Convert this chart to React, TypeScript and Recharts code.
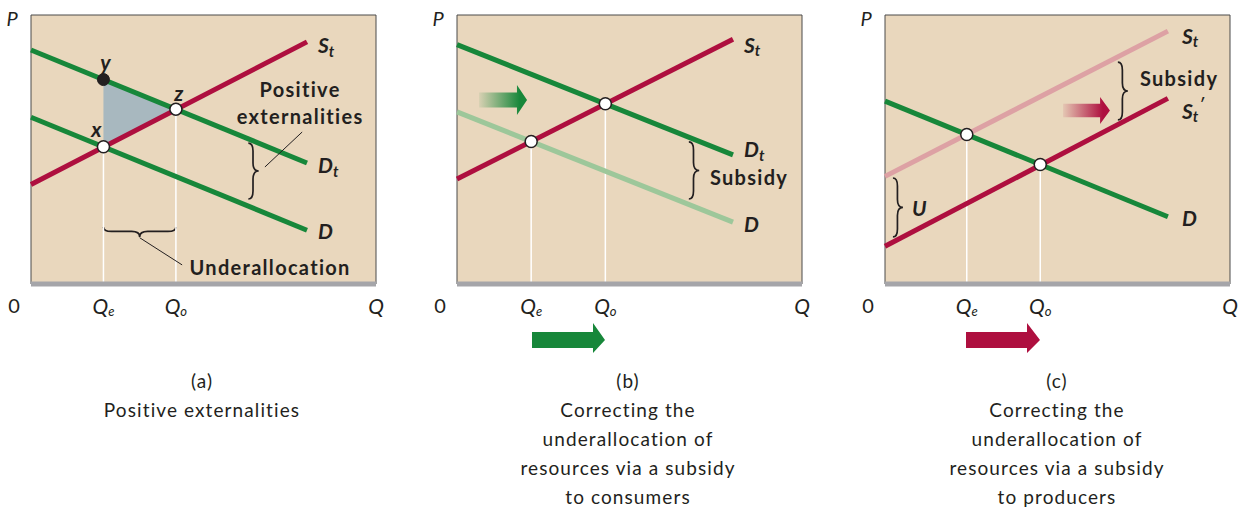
import React from "react";
import {
  ComposedChart,
  Line,
  Area,
  XAxis,
  YAxis,
  ReferenceArea,
  ReferenceLine,
  ReferenceDot,
} from "recharts";

const FONT = "Lato, 'Open Sans', sans-serif";
const INK = "#231f20";
const GREEN = "#17873a";
const RED = "#ae0f3f";
const LGREEN = "#9dc79a";
const PINK = "#dda1a4";
const BEIGE = "#e9d7bd";
const AXIS = "#a5a5a9";
const SHADE = "#a8b8bf";

// panel (a): positive externalities
const aDemand = [{ q: 0, p: 62 }, { q: 80, p: 20 }];
const aDemandTotal = [{ q: 0, p: 87 }, { q: 80, p: 45 }];
const aSupply = [{ q: 0, p: 37 }, { q: 80, p: 90 }];
const aQe = 21;
const aQo = 42;
const aPointX = { q: 21, p: 51 };
const aPointY = { q: 21, p: 76 };
const aPointZ = { q: 42, p: 65 };
const aGain = [{ q: 21, band: [51, 76] }, { q: 42, band: [65, 65] }];

// panel (b): subsidy to consumers
const bDemand = [{ q: 0, p: 64 }, { q: 80, p: 23 }];
const bDemandTotal = [{ q: 0, p: 89 }, { q: 80, p: 48 }];
const bSupply = [{ q: 0, p: 39 }, { q: 80, p: 91 }];
const bQe = 21.5;
const bQo = 43;
const bPointE = { q: 21.5, p: 53 };
const bPointO = { q: 43, p: 67 };

// panel (c): subsidy to producers
const cSupply = [{ q: 0, p: 40 }, { q: 82, p: 94 }];
const cSupplySub = [{ q: 0, p: 14 }, { q: 82, p: 69 }];
const cDemand = [{ q: 0, p: 68 }, { q: 82, p: 25 }];
const cQe = 23.7;
const cQo = 45;
const cPointE = { q: 23.7, p: 55.6 };
const cPointO = { q: 45, p: 44.4 };

const captionA = ["(a)", "Positive externalities"];
const captionB = ["(b)", "Correcting the", "underallocation of", "resources via a subsidy", "to consumers"];
const captionC = ["(c)", "Correcting the", "underallocation of", "resources via a subsidy", "to producers"];

const W = 400;
const H = 320;
const MARGIN = { top: 15, right: 24, left: 31, bottom: 0 };

const qTick = (qe: number, qo: number) => (props: any) => {
  const { x, y, payload } = props;
  const v = payload.value;
  const ty = y + 21;
  if (v === 0) {
    return (
      <text x={x - 17} y={ty} textAnchor="middle" dominantBaseline="central" fontFamily={FONT} fontSize={20} fill={INK}>
        0
      </text>
    );
  }
  const s = v === qe ? "e" : v === qo ? "o" : "";
  return (
    <text x={x} y={ty} textAnchor="middle" dominantBaseline="central" fontFamily={FONT} fontSize={21} fontStyle="italic" fill={INK}>
      Q{s ? <tspan fontSize={13} dy={6}>{s}</tspan> : null}
    </text>
  );
};

const vBrace = (props: any) => {
  const { x, y, width, height } = props;
  const m = x + width * 0.45;
  const r = Math.min(8, height / 6);
  const cy = y + height / 2;
  const tip = x + width;
  const b = y + height;
  const d = `M${x},${y} Q${m},${y} ${m},${y + r} L${m},${cy - r} Q${m},${cy} ${tip},${cy} Q${m},${cy} ${m},${cy + r} L${m},${b - r} Q${m},${b} ${x},${b}`;
  return <path d={d} fill="none" stroke={INK} strokeWidth={1.7} />;
};

const hBrace = (props: any) => {
  const { x, y, width, height } = props;
  const m = y + height * 0.45;
  const r = Math.min(8, width / 6);
  const cx = x + width / 2;
  const tip = y + height;
  const e = x + width;
  const d = `M${x},${y} Q${x},${m} ${x + r},${m} L${cx - r},${m} Q${cx},${m} ${cx},${tip} Q${cx},${m} ${cx + r},${m} L${e - r},${m} Q${e},${m} ${e},${y}`;
  return <path d={d} fill="none" stroke={INK} strokeWidth={1.7} />;
};

const gradArrow = (id: string, color: string) => (props: any) => {
  const { x, y, width, height } = props;
  const body = height * 0.25;
  const cy = y + height / 2;
  const neck = x + width * 0.79;
  const pts = [
    [x, cy - body],
    [neck, cy - body],
    [neck, y],
    [x + width, cy],
    [neck, y + height],
    [neck, cy + body],
    [x, cy + body],
  ]
    .map((p) => p.join(","))
    .join(" ");
  return (
    <g>
      <defs>
        <linearGradient id={id} x1="0" y1="0" x2="1" y2="0">
          <stop offset="0" stopColor={color} stopOpacity={0.08} />
          <stop offset="0.85" stopColor={color} stopOpacity={1} />
        </linearGradient>
      </defs>
      <polygon points={pts} fill={`url(#${id})`} />
    </g>
  );
};

type TagOpts = { dx?: number; dy?: number; anchor?: string; italic?: boolean; size?: number; bold?: boolean; spacing?: number };

const tag = (key: string, q: number, p: number, content: React.ReactNode, opts: TagOpts = {}) => (
  <ReferenceDot
    key={key}
    x={q}
    y={p}
    r={0}
    shape={(pr: any) => (
      <text
        x={pr.cx + (opts.dx ?? 0)}
        y={pr.cy + (opts.dy ?? 0)}
        textAnchor={opts.anchor ?? "start"}
        dominantBaseline="central"
        fontFamily={FONT}
        fontWeight={opts.bold === false ? 400 : 700}
        fontStyle={opts.italic === false ? "normal" : "italic"}
        fontSize={opts.size ?? 21}
        letterSpacing={opts.spacing ?? 0}
        fill={INK}
      >
        {content}
      </text>
    )}
  />
);

const word = (key: string, q: number, p: number, text: string, anchor = "middle") =>
  tag(key, q, p, text, { anchor, italic: false, size: 20, spacing: 1.3 });

const sub = (main: string, s: string) => (
  <>
    {main}
    <tspan fontSize={15} dy={6}>
      {s}
    </tspan>
  </>
);

const frame = (qe: number, qo: number) => [
  <ReferenceArea key="bg" x1={0} x2={100} y1={0} y2={100} fill={BEIGE} fillOpacity={1} stroke="#4a4a4a" strokeWidth={1} />,
  <XAxis
    key="x"
    type="number"
    dataKey="q"
    domain={[0, 100]}
    ticks={[0, qe, qo, 100]}
    interval={0}
    height={36}
    tickSize={0}
    tickMargin={0}
    tickLine={false}
    axisLine={{ stroke: AXIS, strokeWidth: 5 }}
    tick={qTick(qe, qo)}
  />,
  <YAxis key="y" type="number" domain={[0, 100]} width={0} tick={false} tickLine={false} axisLine={{ stroke: AXIS, strokeWidth: 5 }} />,
  tag("p", 0, 100, "P", { dx: -19, dy: 3, anchor: "middle", bold: false, size: 20 }),
];

const guide = (key: string, pt: { q: number; p: number }) => (
  <ReferenceLine key={key} segment={[{ x: pt.q, y: 0 }, { x: pt.q, y: pt.p }]} stroke="#fff" strokeWidth={1.5} />
);

const openDot = (key: string, pt: { q: number; p: number }) => (
  <ReferenceDot key={key} x={pt.q} y={pt.p} r={6} fill="#fff" stroke={INK} strokeWidth={1.5} />
);

function PanelA() {
  return (
    <ComposedChart width={W} height={H} margin={MARGIN}>
      {frame(aQe, aQo)}
      <Area data={aGain} dataKey="band" type="linear" fill={SHADE} fillOpacity={1} stroke="none" isAnimationActive={false} />
      {guide("ge", aPointX)}
      {guide("go", aPointZ)}
      <Line data={aDemand} dataKey="p" stroke={GREEN} strokeWidth={5} dot={false} isAnimationActive={false} />
      <Line data={aDemandTotal} dataKey="p" stroke={GREEN} strokeWidth={5} dot={false} isAnimationActive={false} />
      <Line data={aSupply} dataKey="p" stroke={RED} strokeWidth={5} dot={false} isAnimationActive={false} />
      <ReferenceArea x1={63} x2={66} y1={31.6} y2={52.4} shape={vBrace} />
      <ReferenceArea x1={aQe} x2={aQo} y1={17.5} y2={21.2} shape={hBrace} />
      <ReferenceLine segment={[{ x: 78.6, y: 56.5 }, { x: 67.8, y: 43.5 }]} stroke={INK} strokeWidth={1} />
      <ReferenceLine segment={[{ x: 31.5, y: 17.2 }, { x: 43.8, y: 7.1 }]} stroke={INK} strokeWidth={1} />
      {openDot("dx", aPointX)}
      <ReferenceDot x={aPointY.q} y={aPointY.p} r={6} fill={INK} stroke={INK} strokeWidth={1} />
      {openDot("dz", aPointZ)}
      {tag("ly", aPointY.q, aPointY.p, "y", { dx: 2, dy: -18, anchor: "middle" })}
      {tag("lz", aPointZ.q, aPointZ.p, "z", { dx: 3, dy: -17, anchor: "middle" })}
      {tag("lx", aPointX.q, aPointX.p, "x", { dx: -7, dy: -18, anchor: "middle" })}
      {tag("ls", 80, 90, sub("S", "t"), { dx: 11, dy: 3 })}
      {tag("ldt", 80, 45, sub("D", "t"), { dx: 11, dy: 2 })}
      {tag("ld", 80, 20, "D", { dx: 11, dy: 0 })}
      {word("lpos", 78, 72.5, "Positive")}
      {word("lext", 78, 62.5, "externalities")}
      {word("lund", 69.3, 6.3, "Underallocation")}
    </ComposedChart>
  );
}

function PanelB() {
  return (
    <ComposedChart width={W} height={H} margin={MARGIN}>
      {frame(bQe, bQo)}
      {guide("ge", bPointE)}
      {guide("go", bPointO)}
      <Line data={bDemand} dataKey="p" stroke={LGREEN} strokeWidth={5} dot={false} isAnimationActive={false} />
      <Line data={bDemandTotal} dataKey="p" stroke={GREEN} strokeWidth={5} dot={false} isAnimationActive={false} />
      <Line data={bSupply} dataKey="p" stroke={RED} strokeWidth={5} dot={false} isAnimationActive={false} />
      <ReferenceArea x1={67.2} x2={70.2} y1={31.6} y2={52.8} shape={vBrace} />
      <ReferenceArea x1={6.4} x2={20.3} y1={62.8} y2={74} shape={gradArrow("gb", GREEN)} />
      {openDot("de", bPointE)}
      {openDot("do", bPointO)}
      {tag("ls", 80, 91, sub("S", "t"), { dx: 11, dy: 5 })}
      {tag("ldt", 80, 48, sub("D", "t"), { dx: 11, dy: -6 })}
      {tag("ld", 80, 23, "D", { dx: 11, dy: 1 })}
      {word("lsub", 73.3, 39.8, "Subsidy", "start")}
    </ComposedChart>
  );
}

function PanelC() {
  return (
    <ComposedChart width={W} height={H} margin={MARGIN}>
      {frame(cQe, cQo)}
      {guide("ge", cPointE)}
      {guide("go", cPointO)}
      <Line data={cSupply} dataKey="p" stroke={PINK} strokeWidth={5} dot={false} isAnimationActive={false} />
      <Line data={cDemand} dataKey="p" stroke={GREEN} strokeWidth={5} dot={false} isAnimationActive={false} />
      <Line data={cSupplySub} dataKey="p" stroke={RED} strokeWidth={5} dot={false} isAnimationActive={false} />
      <ReferenceArea x1={67.5} x2={70.4} y1={61} y2={82.5} shape={vBrace} />
      <ReferenceArea x1={2.3} x2={5.2} y1={17.5} y2={39.4} shape={vBrace} />
      <ReferenceArea x1={51.6} x2={65.2} y1={59.5} y2={69.5} shape={gradArrow("gc", RED)} />
      {openDot("de", cPointE)}
      {openDot("do", cPointO)}
      {tag("ls", 82, 94, sub("S", "t"), { dx: 14, dy: 4 })}
      {tag(
        "ls2",
        82,
        69,
        <>
          S
          <tspan fontSize={15} dy={6}>
            t
          </tspan>
          <tspan fontSize={15} dx={1} dy={-13}>
            ′
          </tspan>
        </>,
        { dx: 14, dy: 12 }
      )}
      {tag("ld", 82, 25, "D", { dx: 14, dy: 1 })}
      {word("lsub", 73.9, 76.5, "Subsidy", "start")}
      {tag("lu", 9.9, 28.6, "U", { anchor: "middle" })}
    </ComposedChart>
  );
}

const Caption = ({ lines, center }: { lines: string[]; center: number }) => (
  <div
    style={{
      position: "absolute",
      left: center - 170,
      top: 366,
      width: 340,
      textAlign: "center",
      fontFamily: FONT,
      fontSize: 19,
      letterSpacing: "1.1px",
      lineHeight: "29px",
      color: INK,
    }}
  >
    {lines.map((l) => (
      <div key={l}>{l}</div>
    ))}
  </div>
);

export default function App() {
  return (
    <div style={{ position: "absolute", left: 0, top: 0, width: 1240, height: 508, background: "#fff", overflow: "hidden" }}>
      <div style={{ position: "absolute", left: 0, top: 0 }}>
        <PanelA />
      </div>
      <div style={{ position: "absolute", left: 426, top: 0 }}>
        <PanelB />
      </div>
      <div style={{ position: "absolute", left: 854, top: 0 }}>
        <PanelC />
      </div>
      <svg width={1240} height={508} style={{ position: "absolute", left: 0, top: 0, pointerEvents: "none" }}>
        <polygon points="532,332 593,332 593,323 605,340 593,353 593,348 532,348" fill={GREEN} />
        <polygon points="966,332 1027,332 1027,323 1040,340 1027,353 1027,348 966,348" fill={RED} />
      </svg>
      <Caption lines={captionA} center={202} />
      <Caption lines={captionB} center={628} />
      <Caption lines={captionC} center={1057} />
    </div>
  );
}
